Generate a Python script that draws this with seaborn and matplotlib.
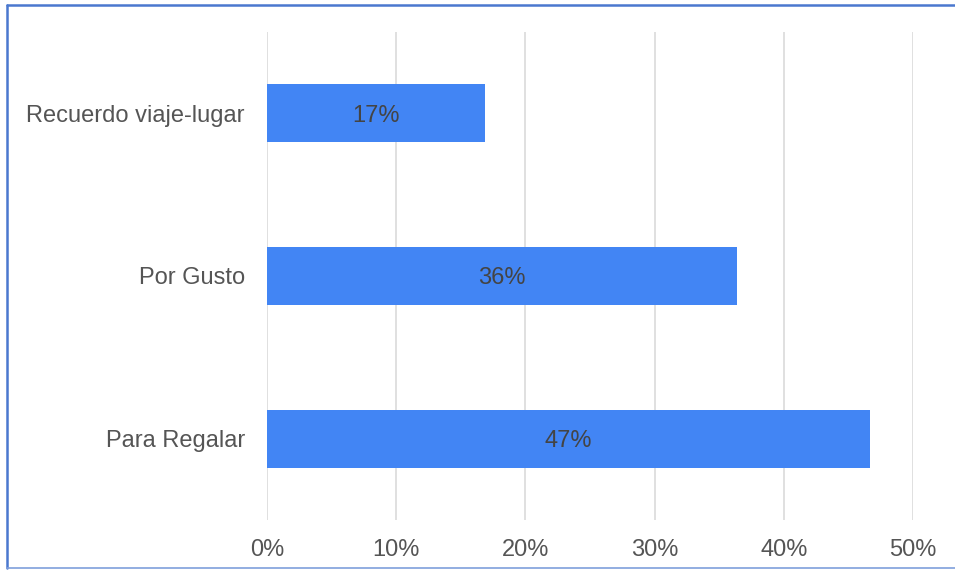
import matplotlib
matplotlib.use("Agg")
import matplotlib.pyplot as plt
from matplotlib.lines import Line2D
from matplotlib.ticker import FuncFormatter
import pandas as pd
import seaborn as sns

# chart data
categories = ["Recuerdo viaje-lugar", "Por Gusto", "Para Regalar"]
shares = [16.9, 36.4, 46.7]
x_ticks = [0, 10, 20, 30, 40, 50]

BAR_BLUE = "#4285F4"
FRAME_BLUE = "#4a78cf"

df = pd.DataFrame({"motivo": categories, "pct": shares})

sns.set_style("white")
plt.rcParams["font.family"] = ["Liberation Sans", "DejaVu Sans"]

fig = plt.figure(figsize=(9.55, 5.70), dpi=100)
ax = fig.add_axes([267 / 955, 1 - 520 / 570, (913 - 267) / 955, (520 - 32) / 570])

sns.barplot(data=df, x="pct", y="motivo", order=categories, color=BAR_BLUE,
            saturation=1, width=0.355, linewidth=0, ax=ax, zorder=2)

ax.set_xlim(0, 50)
ax.set_ylim(2.5, -0.5)
ax.set_xticks(x_ticks)
ax.xaxis.set_major_formatter(FuncFormatter(lambda v, _: f"{v:.0f}%"))
ax.grid(axis="x", color="#dadada", linewidth=1.2, zorder=0)
ax.set_axisbelow(True)
ax.set_xlabel("")
ax.set_ylabel("")
for s in ax.spines.values():
    s.set_visible(False)
ax.tick_params(axis="both", length=0, labelsize=17, colors="#555555")
ax.tick_params(axis="x", pad=14)
ax.tick_params(axis="y", pad=16)

for bar, v in zip(ax.patches, shares):
    ax.text(bar.get_x() + bar.get_width() / 2, bar.get_y() + bar.get_height() / 2,
            f"{v:.0f}%", ha="center", va="center_baseline", fontsize=17, color="#444444")

# screenshot frame (left, top, bottom)
fig.add_artist(Line2D([7 / 955, 7 / 955], [1 - 5 / 570, 1 - 568 / 570],
                      transform=fig.transFigure, color=FRAME_BLUE, linewidth=1.8))
fig.add_artist(Line2D([7 / 955, 1], [1 - 5 / 570, 1 - 5 / 570],
                      transform=fig.transFigure, color=FRAME_BLUE, linewidth=1.8))
fig.add_artist(Line2D([7 / 955, 1], [1 - 568 / 570, 1 - 568 / 570],
                      transform=fig.transFigure, color="#7f9fdc", linewidth=1.2))

fig.savefig("out.png", dpi=100)
